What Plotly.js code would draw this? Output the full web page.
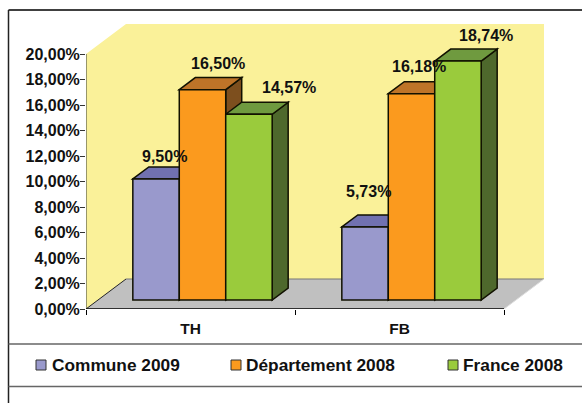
<!DOCTYPE html>
<html><head><meta charset="utf-8">
<script src="https://cdn.plot.ly/plotly-3.0.1.min.js"></script>
<style>html,body{margin:0;padding:0;background:#fff;overflow:hidden}#c{width:582px;height:403px}</style>
</head><body><div id="c"></div>
<script>
var categories = ['TH', 'FB'];
var seriesNames = ['Commune 2009', 'Département 2008', 'France 2008'];
var commune = [9.50, 5.73];
var departement = [16.50, 16.18];
var france = [14.57, 18.74];
var yTicks = [0, 2, 4, 6, 8, 10, 12, 14, 16, 18, 20];
var frontColors = ['#9999CC', '#FB9A1E', '#9ACB3C'];
var topColors = ['#7171B0', '#BE7428', '#6F9A3F'];
var sideColors = ['#55558F', '#7D4F1E', '#4E682C'];
var labelShiftX = [[8, 3], [15, 7], [40, 28]];
var labelShiftY = [[22, 35], [26, 27], [27, 26]];

var values = [commune, departement, france];
var fmt = function (v) { return v.toFixed(2).replace('.', ',') + '%'; };
var W = 582, H = 403;
var L = 86, R = 544, T = 24, B = 309;
var pxPerCat = 209, pxPerUnit = 12.75;
var ux = function (p) { return p / pxPerCat; };
var uy = function (p) { return p / pxPerUnit; };
var pfx = function (x) { return (x - L) / (R - L); };
var pfy = function (y) { return (B - y) / (B - T); };

var wallX = ux(40), wallY = uy(30), barOffX = ux(12), barOffY = uy(9), depthX = ux(16), depthY = uy(12);
var barW = (2 / 3) / 3, yMax = 20, xMax = categories.length;
function poly(pts) {
  return 'M' + pts.map(function (p) { return p[0] + ',' + p[1]; }).join('L') + 'Z';
}
var bold = function (size) { return { family: 'Liberation Sans', size: size, color: '#111111', weight: 700 }; };
var wallFill = '#FAF199';
var shapes = [
  { type: 'path', layer: 'below', line: { width: 0 }, fillcolor: wallFill, path: poly([[0, 0], [0, yMax], [wallX, yMax + wallY], [xMax + wallX, yMax + wallY], [xMax + wallX, wallY], [wallX, wallY]]) },
  { type: 'path', layer: 'below', line: { width: 0 }, fillcolor: '#C0C0C0', path: poly([[0, 0], [xMax, 0], [xMax + wallX, wallY], [wallX, wallY]]) },
  { type: 'line', layer: 'below', x0: wallX, y0: wallY, x1: xMax + wallX, y1: wallY, line: { color: '#777777', width: 1 } },
  { type: 'line', layer: 'below', x0: 0, y0: 0, x1: wallX, y1: wallY, line: { color: '#222222', width: 1 } },
  { type: 'line', layer: 'below', x0: 0, y0: 0, x1: 0, y1: yMax, line: { color: '#77775A', width: 1.5 } },
  { type: 'line', layer: 'below', x0: 0, y0: 0, x1: xMax, y1: 0, line: { color: '#000000', width: 1.5 } },
  { type: 'line', layer: 'below', x0: xMax, y0: 0, x1: xMax + wallX, y1: wallY, line: { color: '#DDDDDD', width: 1 } }
];
var traces = [], annotations = [];
var edge = { color: '#111100', width: 1.5 };
values.forEach(function (vals, s) {
  var xs = categories.map(function (c, i) { return i + 0.5 + barOffX; });
  traces.push({
    type: 'bar', name: seriesNames[s], x: xs, y: vals, base: barOffY,
    marker: { color: frontColors[s], line: edge }, hoverinfo: 'name+y'
  });
  vals.forEach(function (v, c) {
    var x0 = xs[c] + (s - 1.5) * barW, x1 = x0 + barW, top = barOffY + v;
    shapes.push({ type: 'path', layer: 'below', line: edge, fillcolor: sideColors[s],
      path: poly([[x1, barOffY], [x1, top], [x1 + depthX, top + depthY], [x1 + depthX, barOffY + depthY]]) });
    shapes.push({ type: 'path', layer: 'below', line: edge, fillcolor: topColors[s],
      path: poly([[x0, top], [x0 + depthX, top + depthY], [x1 + depthX, top + depthY], [x1, top]]) });
    annotations.push({ xref: 'x', yref: 'y', x: x0 + barW / 2 + ux(labelShiftX[s][c]), y: top + uy(labelShiftY[s][c]),
      text: fmt(v), showarrow: false, xanchor: 'center', yanchor: 'middle', font: bold(16) });
  });
});
function frame(x0, y0, x1, y1, w, color) {
  shapes.push({ type: 'line', xref: 'paper', yref: 'paper', x0: pfx(x0), y0: pfy(y0), x1: pfx(x1), y1: pfy(y1), line: { color: color, width: w } });
}
frame(8.5, 10, 582, 10, 2, '#404040');
frame(8.5, 10, 8.5, 403, 1.5, '#222222');
frame(8.5, 344, 582, 344, 1.5, '#666666');
frame(8.5, 386.5, 582, 386.5, 1.5, '#666666');
var swatchX = [36, 231, 448], legendTextX = [52, 246, 463], legendY = 365;
seriesNames.forEach(function (n, s) {
  shapes.push({ type: 'rect', xref: 'paper', yref: 'paper', x0: pfx(swatchX[s]), x1: pfx(swatchX[s] + 10), y0: pfy(360), y1: pfy(370), fillcolor: frontColors[s], line: { color: '#333333', width: 1 } });
  annotations.push({ xref: 'paper', yref: 'paper', x: pfx(legendTextX[s]), y: pfy(legendY), text: n, showarrow: false, xanchor: 'left', yanchor: 'middle', xshift: -2,
    font: bold(17.3) });
});
var layout = {
  width: W, height: H, showlegend: false, paper_bgcolor: '#FFFFFF', plot_bgcolor: 'rgba(0,0,0,0)',
  margin: { l: L, r: W - R, t: T, b: H - B, pad: 0 },
  barmode: 'group', bargap: 1 / 3, bargroupgap: 0,
  font: { family: 'Liberation Sans', color: '#111111' },
  xaxis: {
    type: 'linear', range: [0, (R - L) / pxPerCat], tickmode: 'array', tickvals: categories.map(function (c, i) { return i + 0.5; }), ticktext: categories,
    ticks: '', showgrid: false, zeroline: false, showline: false, ticklabelstandoff: 8,
    tickfont: bold(15.5),
    minor: { tickmode: 'array', tickvals: categories.map(function (c, i) { return i; }).concat([categories.length]), ticks: 'outside', ticklen: 5, tickwidth: 1, tickcolor: '#000000', showgrid: false }
  },
  yaxis: {
    range: [0, (B - T) / pxPerUnit], tickmode: 'array', tickvals: yTicks, ticktext: yTicks.map(fmt), ticks: 'outside', ticklen: 5, tickwidth: 1, tickcolor: '#333333',
    showgrid: false, zeroline: false, showline: false, ticklabelstandoff: -3,
    tickfont: bold(16)
  },
  shapes: shapes, annotations: annotations
};
Plotly.newPlot('c', traces, layout, { displayModeBar: false, staticPlot: true });
</script></body></html>
